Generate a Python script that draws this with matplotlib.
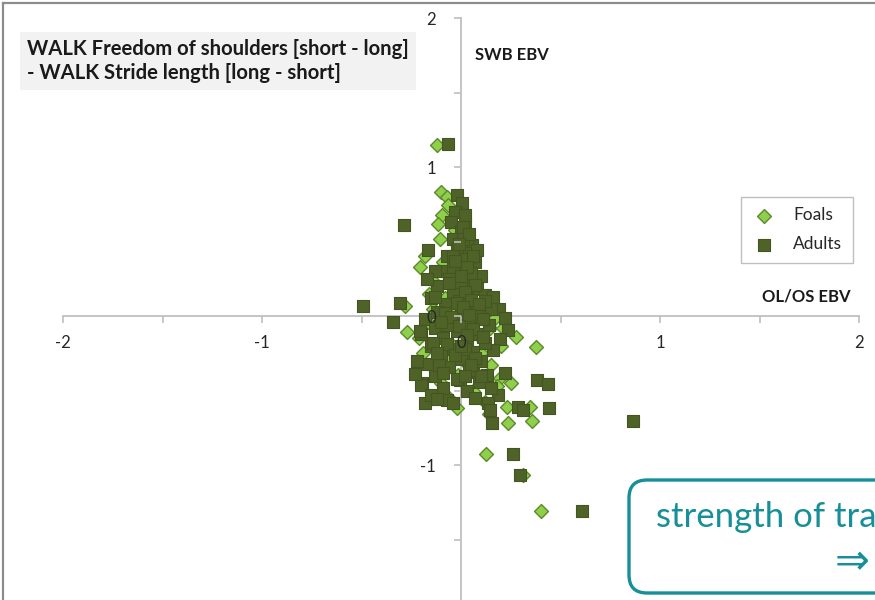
import matplotlib
matplotlib.use('Agg')
import matplotlib.pyplot as plt
from matplotlib.lines import Line2D
from matplotlib.patches import FancyBboxPatch
from matplotlib.transforms import IdentityTransform
from matplotlib.ticker import MultipleLocator

# EBV pairs (OL/OS EBV, SWB EBV)
foals_x = [-0.12, -0.10, -0.07, -0.065, -0.095, -0.115, -0.105, -0.18, -0.205, -0.135,
           -0.28, -0.165, -0.27, -0.21, 0.12, 0.17, 0.145, 0.275, 0.375, -0.07,
           -0.015, 0.195, 0.23, 0.345, 0.355, 0.235, 0.125, 0.31, 0.40, -0.05,
           0.02, -0.02, 0.05, 0.08, -0.04, 0.10, 0.02, 0.15, -0.10, 0.06,
           -0.06, 0.12, 0.18, -0.12, 0.00, -0.03, 0.03, -0.08, 0.09, -0.14,
           0.20, 0.25, -0.16, -0.09, 0.06, -0.02, 0.21, -0.19, 0.14, 0.04]
foals_y = [1.15, 0.83, 0.80, 0.745, 0.68, 0.62, 0.52, 0.40, 0.33, 0.23,
           0.07, -0.04, -0.11, -0.15, 0.02, -0.015, -0.08, -0.14, -0.21, -0.295,
           -0.395, -0.415, -0.61, -0.61, -0.705, -0.72, -0.925, -1.07, -1.31, 0.30,
           0.10, 0.05, -0.05, -0.12, -0.20, -0.25, -0.31, -0.33, -0.45, -0.50,
           -0.55, -0.58, -0.47, -0.38, 0.45, 0.58, 0.20, 0.12, 0.06, 0.05,
           -0.20, -0.45, 0.15, 0.36, -0.36, -0.62, -0.08, -0.25, -0.66, 0.35]

adults_x = [-0.065, -0.285, -0.02, 0.005, 0.02, 0.055, 0.045, -0.49, -0.34, -0.305,
            0.19, 0.22, 0.235, 0.195, 0.16, 0.22, 0.38, 0.435, 0.13, 0.185,
            0.135, 0.145, 0.285, 0.31, 0.44, 0.155, 0.865, 0.26, 0.295, 0.61,
            -0.195, -0.18, -0.07, -0.04, -0.005, 0.06,
            -0.03, 0.02, -0.05, 0.00, -0.04, 0.03, -0.02, 0.04, -0.07, 0.00,
            0.07, -0.04, 0.02, -0.10, 0.10, -0.06, 0.05, -0.12, 0.00, 0.08,
            -0.04, 0.12, -0.15, 0.03, -0.08, 0.06, 0.15, -0.12, 0.00, 0.09,
            -0.18, -0.05, 0.04, 0.14, -0.13, -0.02, 0.08, -0.20, -0.09, 0.03,
            0.12, -0.15, -0.04, 0.06, -0.10, 0.00, 0.10, -0.17, -0.06, 0.04,
            -0.13, -0.02, 0.09, -0.20, -0.09, 0.03, -0.15, 0.15, -0.22, -0.165,
            -0.13, -0.13, -0.205, -0.14, 0.01, 0.05, -0.01, 0.11, -0.07, 0.02,
            -0.11, 0.07, -0.04, 0.02, -0.17, 0.08, 0.10, -0.23, -0.12, 0.16,
            0.12,
            0.01, 0.04, -0.01, 0.06, -0.03, 0.03, 0.00, -0.06, 0.07, 0.02,
            -0.02, 0.05, -0.08, 0.01, 0.09, -0.05, 0.04, -0.01, 0.06, -0.10,
            0.03, -0.07, 0.11, -0.03, 0.00, 0.07, -0.12, 0.05, -0.09, 0.02]
adults_y = [1.155, 0.61, 0.81, 0.76, 0.62, 0.475, 0.34, 0.065, -0.04, 0.085,
            0.045, -0.015, -0.095, -0.155, -0.23, -0.38, -0.43, -0.455, -0.395, -0.53,
            -0.585, -0.63, -0.61, -0.63, -0.62, -0.72, -0.705, -0.925, -1.065, -1.31,
            -0.45, -0.585, -0.565, -0.585, -0.43, -0.375,
            0.70, 0.68, 0.63, 0.57, 0.52, 0.50, 0.45, 0.42, 0.40, 0.38,
            0.36, 0.33, 0.30, 0.30, 0.27, 0.25, 0.23, 0.20, 0.20, 0.18,
            0.15, 0.14, 0.12, 0.12, 0.08, 0.07, 0.05, 0.03, 0.02, 0.00,
            -0.02, -0.03, -0.05, -0.06, -0.08, -0.10, -0.12, -0.12, -0.15, -0.17,
            -0.18, -0.20, -0.22, -0.24, -0.27, -0.29, -0.30, -0.32, -0.34, -0.36,
            -0.40, -0.42, -0.44, -0.46, -0.48, -0.50, -0.53, -0.48, -0.30, 0.44,
            0.30, 0.13, -0.10, -0.18, 0.52, 0.29, 0.10, -0.02, -0.06, -0.22,
            -0.33, -0.55, 0.40, 0.04, 0.25, 0.44, -0.40, -0.39, -0.56, 0.13,
            0.10,
            0.60, 0.55, 0.48, 0.40, 0.37, 0.33, 0.27, 0.22, 0.21, 0.16,
            0.09, 0.11, 0.02, 0.06, 0.08, -0.01, 0.01, -0.07, -0.09, -0.04,
            -0.13, -0.19, -0.14, -0.26, -0.20, -0.28, -0.25, -0.33, -0.38, -0.40]

x_ticks = [-2, -1, 0, 1, 2]
y_ticks = [-1, 0, 1, 2]

plt.rcParams['font.family'] = ['Lato', 'DejaVu Sans']
plt.rcParams['axes.unicode_minus'] = False

fig = plt.figure(figsize=(8.75, 6), dpi=100)
ax = fig.add_axes([0, 0, 1, 1])
ax.patch.set_visible(False)

# 199 px per x unit, 149 px per y unit, origin at (461, 316)
ax.set_xlim(-461 / 199, (875 - 461) / 199)
ax.set_ylim((316 - 600) / 149, 316 / 149)

axis_col = '#bfbfbf'
for side in ['top', 'right']:
    ax.spines[side].set_visible(False)
ax.spines['left'].set_position('zero')
ax.spines['bottom'].set_position('zero')
ax.spines['left'].set_bounds(-2, 2)
ax.spines['bottom'].set_bounds(-2, 2)
for side in ['left', 'bottom']:
    ax.spines[side].set_color(axis_col)
    ax.spines[side].set_linewidth(1.3)
    ax.spines[side].set_zorder(1)

ax.set_xticks(x_ticks)
ax.set_yticks(y_ticks)
ax.xaxis.set_minor_locator(MultipleLocator(0.5))
ax.yaxis.set_minor_locator(MultipleLocator(0.5))
ax.tick_params(which='both', direction='out', length=5, width=1.2, color=axis_col,
               labelsize=12, labelcolor='#262626')
ax.tick_params(axis='x', which='major', pad=9)
ax.tick_params(axis='y', which='major', pad=13)
ax.xaxis.set_zorder(4)
ax.yaxis.set_zorder(4)

ax.scatter(foals_x, foals_y, marker='D', s=50, c='#8fcf4c', edgecolors='#5b8a2a',
           linewidths=1.0, zorder=2, label='Foals')
ax.scatter(adults_x, adults_y, marker='s', s=80, c='#4f6228', edgecolors='#435520',
           linewidths=0.8, zorder=3, label='Adults')

leg = ax.legend(loc='upper left', bbox_to_anchor=(741 / 875, 1 - 197 / 600),
                bbox_transform=fig.transFigure, borderaxespad=0, fontsize=12.5,
                fancybox=False, framealpha=1, edgecolor='#bfbfbf',
                labelspacing=0.75, handletextpad=1.0, borderpad=0.6,
                handlelength=1.4, labelcolor='#262626')
leg.get_frame().set_linewidth(1.0)
leg.set_zorder(5)

fig.text(27 / 875, 1 - 61 / 600,
         'WALK Freedom of shoulders [short - long]\n- WALK Stride length [long - short]',
         fontsize=14.6, fontweight='bold', color='#1a1a1a', va='center', ha='left',
         linespacing=1.3,
         bbox=dict(boxstyle='square,pad=0.35', fc='#f2f2f2', ec='none'))
fig.text(475 / 875, 1 - 55 / 600, 'SWB EBV', fontsize=12, fontweight='bold',
         color='#1a1a1a', va='center', ha='left')
fig.text(850 / 875, 1 - 297 / 600, 'OL/OS EBV', fontsize=12, fontweight='bold',
         color='#1a1a1a', va='center', ha='right')

# chart border
border = '#8c8c8c'
fig.add_artist(Line2D([3 / 875, 1], [1 - 3 / 600, 1 - 3 / 600],
                      transform=fig.transFigure, color=border, lw=1.6))
fig.add_artist(Line2D([3 / 875, 3 / 875], [0, 1 - 3 / 600],
                      transform=fig.transFigure, color=border, lw=1.6))

# callout box in the corner
teal = '#178f98'
box = FancyBboxPatch((629, 7), 320, 113, boxstyle='round,pad=0,rounding_size=18',
                     transform=IdentityTransform(), fc='white', ec=teal, lw=2.4,
                     zorder=10)
fig.add_artist(box)
fig.text(656 / 875, 73 / 600, 'strength of tra', fontsize=25, color=teal,
         va='baseline', ha='left', zorder=11)
fig.text(852 / 875, 38 / 600, '\u21d2', fontsize=30, color=teal,
         va='center', ha='center', zorder=11)

fig.savefig('out.png', dpi=100)
